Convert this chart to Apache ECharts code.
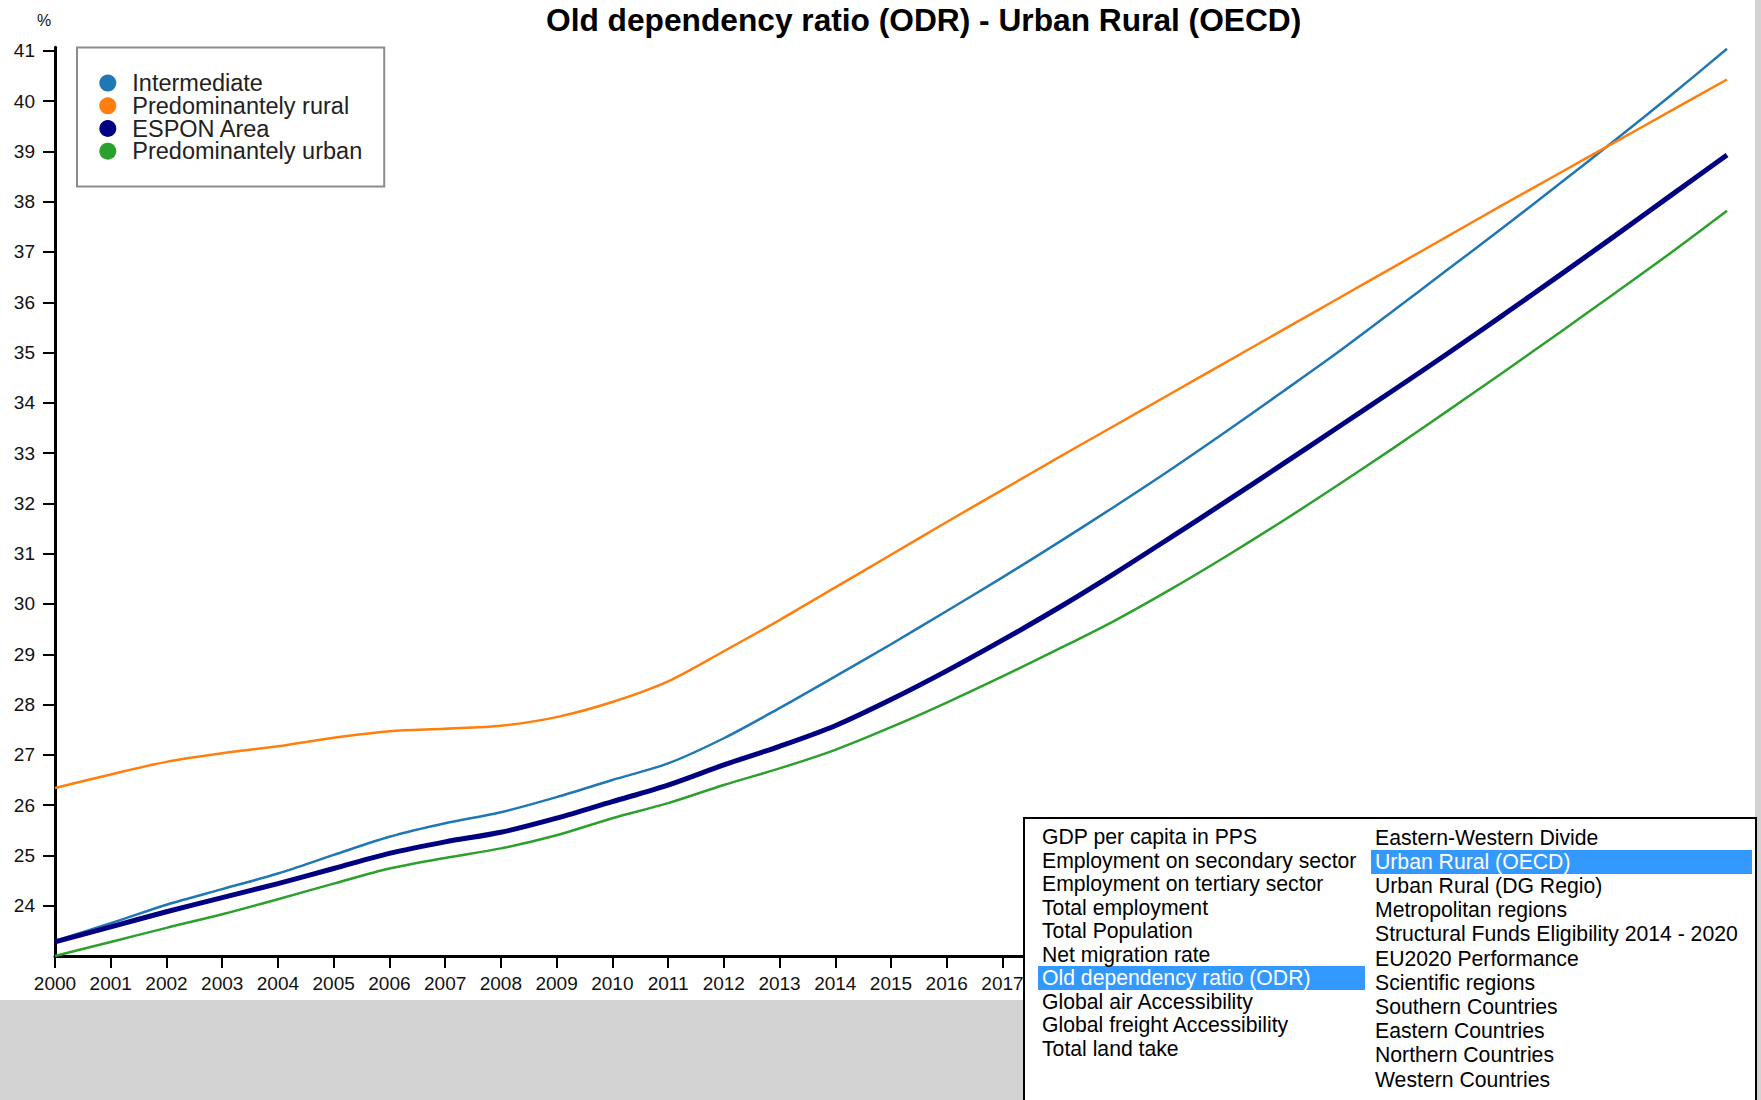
<!DOCTYPE html>
<html>
<head>
<meta charset="utf-8">
<script src="https://cdn.jsdelivr.net/npm/echarts@6/dist/echarts.min.js"></script>
<style>
html,body{margin:0;padding:0;background:#d3d3d3;width:1761px;height:1100px;overflow:hidden;font-family:"Liberation Sans",Arial,sans-serif;}
#wrap{position:absolute;left:0;top:0;width:1755px;height:1000px;background:#fff;}
#chart{width:1755px;height:1000px;}
#panel{position:absolute;left:1023px;top:817px;width:730px;height:320px;border:2px solid #000;background:#fff;}
.col{position:absolute;}
.item{white-space:nowrap;padding-left:4px;color:#000;font-size:21.2px;}
.item.sel{background:#3399ff;color:#fff;}
</style>
</head>
<body>
<div id="wrap"><div id="chart"></div></div>
<div id="panel">
  <div class="col" id="colL" style="left:13px;top:6px;width:327px;"></div>
  <div class="col" id="colR" style="left:346px;top:6.7px;width:381px;"></div>
</div>
<script>
const years = [2000,2001,2002,2003,2004,2005,2006,2007,2008,2009,2010,2011,2012,2013,2014,2015,2016,2017,2018,2019,2020,2021,2022,2023,2024,2025,2026,2027,2028,2029,2030];
const seriesNames = ['Intermediate','Predominantely rural','ESPON Area','Predominantely urban'];
const intermediate = [23.30,23.65,24.02,24.33,24.64,25.01,25.37,25.64,25.86,26.16,26.50,26.83,27.33,27.93,28.56,29.20,29.86,30.53,31.22,31.93,32.66,33.42,34.20,34.99,35.82,36.66,37.50,38.36,39.23,40.12,41.04];
const rural = [26.34,26.61,26.86,27.03,27.17,27.34,27.47,27.52,27.58,27.75,28.05,28.46,29.06,29.68,30.33,30.98,31.63,32.27,32.91,33.54,34.17,34.80,35.43,36.06,36.69,37.32,37.95,38.57,39.19,39.81,40.43];
const espon = [23.28,23.58,23.88,24.16,24.44,24.74,25.04,25.27,25.46,25.74,26.07,26.40,26.80,27.17,27.58,28.10,28.67,29.28,29.92,30.60,31.31,32.03,32.76,33.50,34.24,34.99,35.76,36.54,37.33,38.13,38.93];
const urban = [23.00,23.28,23.56,23.83,24.13,24.44,24.74,24.95,25.14,25.40,25.74,26.04,26.40,26.73,27.10,27.55,28.04,28.56,29.10,29.66,30.28,30.94,31.63,32.35,33.09,33.85,34.62,35.40,36.19,36.99,37.82];
const yMin = 23, yMax = 41.07;
const lastVisibleYearLabel = 2017;
const indicatorList = ['GDP per capita in PPS','Employment on secondary sector','Employment on tertiary sector','Total employment','Total Population','Net migration rate','Old dependency ratio (ODR)','Global air Accessibility','Global freight Accessibility','Total land take'];
const regionList = ['Eastern-Western Divide','Urban Rural (OECD)','Urban Rural (DG Regio)','Metropolitan regions','Structural Funds Eligibility 2014 - 2020','EU2020 Performance','Scientific regions','Southern Countries','Eastern Countries','Northern Countries','Western Countries'];
const selIndicator = 'Old dependency ratio (ODR)';
const selRegion = 'Urban Rural (OECD)';

function fillCol(el, list, sel, rowH){
  list.forEach(t=>{
    const d=document.createElement('div');
    d.className='item'+(t===sel?' sel':'');
    d.style.height=rowH+'px';d.style.lineHeight=rowH+'px';
    d.textContent=t;el.appendChild(d);
  });
}
fillCol(document.getElementById('colL'), indicatorList, selIndicator, 23.5);
fillCol(document.getElementById('colR'), regionList, selRegion, 24.2);

const FONT = '"Liberation Sans", Arial, sans-serif';
const colors = ['#1f77b4','#ff7f0e','#000080','#2ca02c'];
const values = [intermediate, rural, espon, urban];
const chart = echarts.init(document.getElementById('chart'), null, {renderer:'svg'});
chart.setOption({
  animation:false,
  title:{text:'Old dependency ratio (ODR) - Urban Rural (OECD)', left:546, top:4, padding:0,
    textStyle:{fontSize:31.7, fontWeight:'bold', color:'#000', fontFamily:FONT}},
  graphic:[{type:'text', left:37, top:12, style:{text:'%', fontSize:16, fill:'#111', fontFamily:FONT}}],
  legend:{orient:'vertical', left:77, top:47.5, icon:'circle', itemWidth:39, itemHeight:17, itemGap:-1.3,
    padding:[23.6,22,23.4,22.3], borderColor:'#8c8c8c', borderWidth:2,
    textStyle:{fontSize:23.5, color:'#222', fontFamily:FONT},
    itemStyle:{borderWidth:0}, data:seriesNames},
  grid:{left:55, right:28, top:47.3, bottom:44, containLabel:false},
  xAxis:{type:'value', min:years[0], max:years[years.length-1], interval:1,
    axisLine:{lineStyle:{color:'#000', width:3}},
    axisTick:{length:12, lineStyle:{color:'#000', width:2}},
    axisLabel:{fontSize:19, color:'#111', margin:18, fontFamily:FONT,
      formatter:v=>(v<=lastVisibleYearLabel?String(v):'')},
    splitLine:{show:false}},
  yAxis:{type:'value', min:yMin, max:yMax, interval:1,
    axisLine:{show:true, lineStyle:{color:'#000', width:3}},
    axisTick:{show:true, length:12, lineStyle:{color:'#000', width:2}},
    axisLabel:{fontSize:19, color:'#111', margin:20, fontFamily:FONT, showMinLabel:false, showMaxLabel:false},
    splitLine:{show:false}},
  series: seriesNames.map((n,k)=>({
    name:n, type:'line', smooth:0.3, symbol:'none', showSymbol:false,
    data: years.map((y,i)=>[y, values[k][i]]),
    lineStyle:{width: n==='ESPON Area'?5:2.5, color:colors[k]},
    itemStyle:{color:colors[k]}
  }))
});
</script>
</body>
</html>
